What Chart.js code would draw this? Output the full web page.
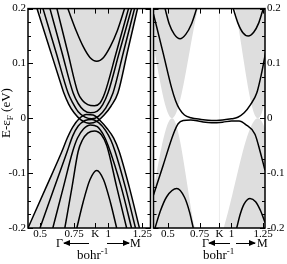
<!DOCTYPE html>
<html>
<head>
<meta charset="utf-8">
<script src="https://cdn.jsdelivr.net/npm/chart.js@4"></script>
<style>
  body { margin: 0; background: #fff; width: 287px; height: 264px; position: relative; overflow: hidden;
         font-family: "Liberation Serif", "Times New Roman", Times, "DejaVu Serif", serif; color: #000; }
  #leftBox { position: absolute; left: 0; top: 0; }
  #rightBox { position: absolute; left: 152px; top: 0; }
  .t { position: absolute; white-space: nowrap; line-height: 14px; }
  .t sub { font-size: 9px; vertical-align: -3px; line-height: 0; }
  .t sup { font-size: 9px; vertical-align: 5px; line-height: 0; }
  .arr { position: absolute; height: 1px; background: #000; }
  .arr.l::before { content: ''; position: absolute; left: -1px; top: -3px;
    border-right: 7px solid #000; border-top: 3.5px solid transparent; border-bottom: 3.5px solid transparent; }
  .arr.r::after { content: ''; position: absolute; right: -1px; top: -3px;
    border-left: 7px solid #000; border-top: 3.5px solid transparent; border-bottom: 3.5px solid transparent; }
  #ytitle { left: -34px; top: 106px; width: 80px; text-align: center; font-size: 13px; transform: rotate(-90deg); }
</style>
</head>
<body>
<canvas id="leftBox" width="152" height="264"></canvas>
<canvas id="rightBox" width="135" height="264"></canvas>

<div class="t" id="ytitle">E-ε<sub>F</sub> (eV)</div>

<div class="t" style="left:56px;top:236px;font-size:12px;">Γ</div>
<div class="arr l" style="left:64px;top:243px;width:25px;"></div>
<div class="arr r" style="left:107px;top:243px;width:22px;"></div>
<div class="t" style="left:130px;top:236px;font-size:12px;">M</div>
<div class="t" style="left:77px;top:248px;font-size:13px;">bohr<sup>-1</sup></div>

<div class="t" style="left:202px;top:236px;font-size:12px;">Γ</div>
<div class="arr l" style="left:209px;top:243px;width:21px;"></div>
<div class="arr r" style="left:236px;top:243px;width:19px;"></div>
<div class="t" style="left:257px;top:236px;font-size:12px;">M</div>
<div class="t" style="left:203px;top:248px;font-size:13px;">bohr<sup>-1</sup></div>

<script>
// tick labels
const kPoint = 0.905;
const xTickValues = [0.5, 0.75, kPoint, 1, 1.25];
const xTickLabels = ['0.5', '0.75', 'K', '1', '1.25'];
const yTickValues = [-0.2, -0.1, 0, 0.1, 0.2];
const yTickLabels = ['-0.2', '-0.1', '0', '0.1', '0.2'];

// left panel bands, [k (bohr^-1), E (eV)]
const leftCondInner = [[0.704,0.2],[0.766,0.159],[0.816,0.131],[0.866,0.111],[0.916,0.104],[0.966,0.111],[1.016,0.131],[1.066,0.159],[1.12,0.2]];
const leftValInner = [[0.77,-0.2],[0.816,-0.153],[0.866,-0.112],[0.916,-0.095],[0.966,-0.112],[1.016,-0.153],[1.062,-0.2]];
const leftCond1 = [[0.478,0.2],[0.58,0.12],[0.644,0.07],[0.675,0.046],[0.71,0.026],[0.75,0.01],[0.80,-0.003],[0.86,-0.009],[0.92,-0.005],[0.97,0.006],[1.02,0.022],[1.071,0.046],[1.14,0.12],[1.215,0.2]];
const leftCond2 = [[0.522,0.2],[0.618,0.12],[0.706,0.046],[0.74,0.028],[0.78,0.012],[0.83,0.002],[0.88,-0.001],[0.93,0.004],[0.98,0.018],[1.035,0.046],[1.111,0.12],[1.193,0.2]];
const leftCond3 = [[0.573,0.2],[0.661,0.12],[0.743,0.046],[0.78,0.027],[0.82,0.015],[0.87,0.01],[0.92,0.013],[0.96,0.025],[0.998,0.046],[1.081,0.12],[1.171,0.2]];
const leftCond4 = [[0.624,0.2],[0.704,0.12],[0.779,0.046],[0.81,0.033],[0.85,0.025],[0.9,0.023],[0.94,0.028],[0.975,0.046],[1.059,0.12],[1.149,0.2]];
const leftVal1 = [[0.412,-0.2],[0.546,-0.125],[0.658,-0.062],[0.70,-0.036],[0.74,-0.016],[0.79,0.0],[0.84,0.007],[0.89,0.006],[0.94,-0.004],[0.99,-0.018],[1.04,-0.036],[1.08,-0.06],[1.154,-0.125],[1.229,-0.2]];
const leftVal2 = [[0.5,-0.2],[0.607,-0.125],[0.70,-0.06],[0.74,-0.032],[0.78,-0.014],[0.83,-0.004],[0.88,-0.002],[0.93,-0.008],[0.98,-0.022],[1.02,-0.04],[1.05,-0.06],[1.125,-0.125],[1.2,-0.2]];
const leftVal3 = [[0.594,-0.2],[0.672,-0.125],[0.74,-0.06],[0.775,-0.036],[0.82,-0.019],[0.87,-0.012],[0.92,-0.015],[0.965,-0.03],[1.0,-0.05],[1.095,-0.125],[1.171,-0.2]];
const leftVal4 = [[0.682,-0.2],[0.735,-0.125],[0.78,-0.06],[0.81,-0.04],[0.85,-0.027],[0.9,-0.023],[0.95,-0.03],[0.99,-0.05],[1.062,-0.125],[1.135,-0.2]];

// right panel bands
const rightCondLeft = [[0.477,0.2],[0.51,0.172],[0.55,0.153],[0.595,0.145],[0.64,0.153],[0.685,0.172],[0.726,0.2]];
const rightCondRight = [[1.014,0.2],[1.05,0.174],[1.09,0.156],[1.132,0.15],[1.175,0.157],[1.215,0.174],[1.25,0.2]];
const rightCondMain = [[0.386,0.19],[0.463,0.118],[0.529,0.055],[0.56,0.032],[0.59,0.017],[0.63,0.006],[0.68,0.001],[0.76,-0.002],[0.844,-0.004],[0.93,-0.003],[1.0,-0.001],[1.05,0.002],[1.1,0.01],[1.15,0.025],[1.199,0.046],[1.235,0.08],[1.277,0.13]];
const rightValMain = [[0.386,-0.14],[0.463,-0.085],[0.542,-0.029],[0.58,-0.01],[0.62,-0.004],[0.68,-0.003],[0.76,-0.006],[0.844,-0.008],[0.93,-0.007],[1.0,-0.005],[1.06,-0.005],[1.11,-0.011],[1.185,-0.029],[1.225,-0.06],[1.264,-0.095]];
const rightValLeft = [[0.398,-0.2],[0.44,-0.169],[0.49,-0.143],[0.569,-0.128],[0.63,-0.144],[0.67,-0.171],[0.699,-0.2]];
const rightValRight = [[1.041,-0.2],[1.07,-0.174],[1.1,-0.156],[1.146,-0.146],[1.19,-0.152],[1.23,-0.169],[1.264,-0.19]];

// projected bulk bands (gray), right panel
const coneUpperLeft = [[0.33,0.2],[0.532,0],[0.736,0.2]];
const coneLowerLeft = [[0.33,-0.2],[0.532,0],[0.713,-0.2]];
const coneUpperRight = [[1.028,0.2],[1.209,0],[1.39,0.2]];
const coneLowerRight = [[0.94,-0.2],[1.209,0],[1.45,-0.2]];
const kLine = [[kPoint,-0.2],[kPoint,0.2]];

const GRAY = '#dedede';
const FONT = { family: '"Liberation Serif", "Times New Roman", Times, "DejaVu Serif", serif', size: 11 };

function pts(arr) {
  return arr.map(p => ({ x: p[0], y: p[1] }));
}

function band(arr) {
  return { data: pts(arr), borderColor: '#000', borderWidth: 1.5, pointRadius: 0,
           fill: false, cubicInterpolationMode: 'monotone', order: 0 };
}

function shade(arr, to) {
  return { data: pts(arr), borderWidth: 0, borderColor: 'rgba(0,0,0,0)', backgroundColor: GRAY,
           pointRadius: 0, fill: to, cubicInterpolationMode: 'monotone', order: 5 };
}

// frame + inward ticks on all four sides
const frameTicks = {
  id: 'frameTicks',
  afterDatasetsDraw(chart) {
    const { ctx, chartArea: a, scales } = chart;
    const xs = scales.x, ys = scales.y;
    ctx.save();
    ctx.strokeStyle = '#000';
    ctx.lineWidth = 1;
    ctx.beginPath();
    for (let i = -8; i <= 8; i++) {
      const py = Math.round(ys.getPixelForValue(i * 0.025)) + 0.5;
      const len = i % 4 === 0 ? 5 : 3;
      ctx.moveTo(a.left, py); ctx.lineTo(a.left + len, py);
      ctx.moveTo(a.right, py); ctx.lineTo(a.right - len, py);
    }
    xTickValues.forEach(v => {
      const px = Math.round(xs.getPixelForValue(v)) + 0.5;
      ctx.moveTo(px, a.bottom); ctx.lineTo(px, a.bottom - 5);
      ctx.moveTo(px, a.top); ctx.lineTo(px, a.top + 5);
    });
    ctx.stroke();
    ctx.lineWidth = 1.5;
    ctx.strokeRect(a.left, a.top, a.width, a.height);
    ctx.restore();
  }
};

function makePanel(id, datasets, xMin, xMax, yPos, yWidth, pad) {
  return new Chart(document.getElementById(id), {
    type: 'line',
    data: { datasets: datasets },
    options: {
      responsive: false,
      animation: false,
      layout: { padding: pad },
      plugins: { legend: { display: false }, tooltip: { enabled: false } },
      scales: {
        x: {
          type: 'linear', min: xMin, max: xMax,
          grid: { display: false, drawTicks: false },
          border: { display: false },
          afterBuildTicks: s => { s.ticks = xTickValues.map(v => ({ value: v })); },
          afterFit: s => { s.height = 36; },
          ticks: { autoSkip: false, maxRotation: 0, padding: 0, color: '#000', font: FONT,
                   callback: (v, i) => xTickLabels[i] }
        },
        y: {
          type: 'linear', position: yPos, min: -0.2, max: 0.2,
          grid: { display: false, drawTicks: false },
          border: { display: false },
          afterBuildTicks: s => { s.ticks = yTickValues.map(v => ({ value: v })); },
          afterFit: s => { s.width = yWidth; },
          ticks: { padding: 2, color: '#000', font: FONT,
                   callback: (v, i) => yTickLabels[i] }
        }
      }
    },
    plugins: [frameTicks]
  });
}

makePanel('leftBox', [
  shade(leftCond1, 'end'),
  shade(leftVal1, 'start'),
  band(leftCondInner), band(leftValInner),
  band(leftCond1), band(leftCond2), band(leftCond3), band(leftCond4),
  band(leftVal1), band(leftVal2), band(leftVal3), band(leftVal4)
], 0.412, 1.31, 'left', 28, { top: 4.5, right: 1, left: 0, bottom: 0 });

makePanel('rightBox', [
  shade(coneUpperLeft, 'end'), shade(coneLowerLeft, 'start'),
  shade(coneUpperRight, 'end'), shade(coneLowerRight, 'start'),
  { data: pts(kLine), borderColor: '#ececec', borderWidth: 1, pointRadius: 0, fill: false, order: 4 },
  band(rightCondLeft), band(rightCondRight), band(rightCondMain),
  band(rightValMain), band(rightValLeft), band(rightValRight)
], 0.386, 1.264, 'right', 22, { top: 4.5, right: 0, left: 1.5, bottom: 0 });
</script>
</body>
</html>
